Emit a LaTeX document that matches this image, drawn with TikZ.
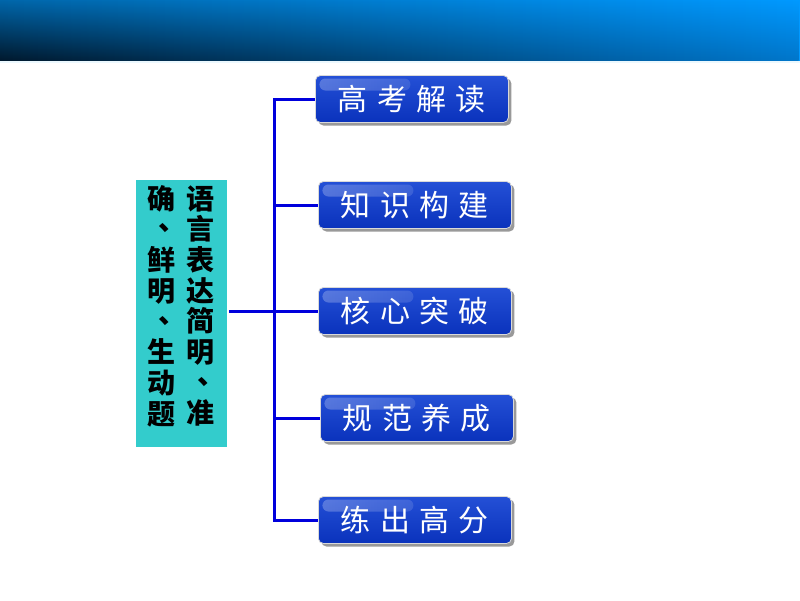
\documentclass[tikz,border=0pt]{standalone}
\usepackage{fontspec}
\setmainfont{Noto Sans CJK SC}
\newfontfamily\cjkbtn[WordSpace=1.4]{Noto Sans CJK SC}
\usetikzlibrary{positioning, shadows, fadings}

\definecolor{barbright}{HTML}{0099FF}
\definecolor{barleft}{HTML}{0066AA}
\definecolor{barlowright}{HTML}{0076CA}
\definecolor{bardark}{HTML}{00182C}
\definecolor{topicteal}{HTML}{33CCCC}
\definecolor{linkblue}{HTML}{0000DC}
\definecolor{btntop}{HTML}{2450D6}
\definecolor{btnbottom}{HTML}{0A32BC}

% vertical-text pause mark, centred in its cell
\newcommand\vdun{\makebox[1em]{\raisebox{0.32em}{\kern0.42em 、\kern-0.42em}}}

\tikzset{
  topic/.style={fill=topicteal, minimum width=91, minimum height=267, inner sep=0pt},
  topiccol/.style={inner sep=0pt, align=center, text width=28pt,
    font=\bfseries\fontsize{28}{30.7}\selectfont},
  btn/.style={rounded corners=5pt, top color=btntop, bottom color=btnbottom,
    draw=black!15, line width=0.8pt, minimum width=193, minimum height=47,
    text=white, font=\cjkbtn\fontsize{30}{34}\selectfont,
    drop shadow={shadow xshift=3pt, shadow yshift=-3pt, fill=black!50, opacity=0.8},
    path picture={
      \fill[white, fill opacity=0.25, path fading=east, rounded corners=6pt]
        ([shift={(4pt,-3pt)}]path picture bounding box.north west)
        rectangle ([shift={(95pt,-15pt)}]path picture bounding box.north west);
    }},
  link/.style={draw=linkblue, line width=3pt}
}

\begin{document}
\begin{tikzpicture}[x=1pt, y=-1pt]
  \useasboundingbox (0,0) rectangle (800,600);

  % title bar
  \shade[left color=barleft, right color=barbright] (0,0) rectangle (800,61);
  \shade[left color=bardark, right color=barlowright, path fading=north]
    (0,0) rectangle (800,61);
  \fill[cyan!8] (0,61) rectangle (800,62.5);

  % topic box, text read in columns from right to left
  \node[topic] (topic) at (181.5,313.5) {};
  \node[topiccol] (colright) at (200,306)
    {语\\言\\表\\达\\简\\明\\\vdun\\准};
  \node[topiccol] (colleft) at (161,306)
    {确\\\vdun\\鲜\\明\\\vdun\\生\\动\\题};

  \coordinate (fork) at (274.5,311);
  \draw[link] ([xshift=2pt]topic.east |- fork) -- (fork);

  % parts
  \foreach \lbl/\xpos/\ypos [count=\i] in {%
      高 考 解 读/315/99,
      知 识 构 建/318/205,
      核 心 突 破/318/311,
      规 范 养 成/320/418,
      练 出 高 分/318/520}{
    \node[btn, anchor=west] (part\i) at (\xpos,\ypos) {\lbl};
    \draw[link] (fork) |- (part\i.west);
  };
\end{tikzpicture}
\end{document}
